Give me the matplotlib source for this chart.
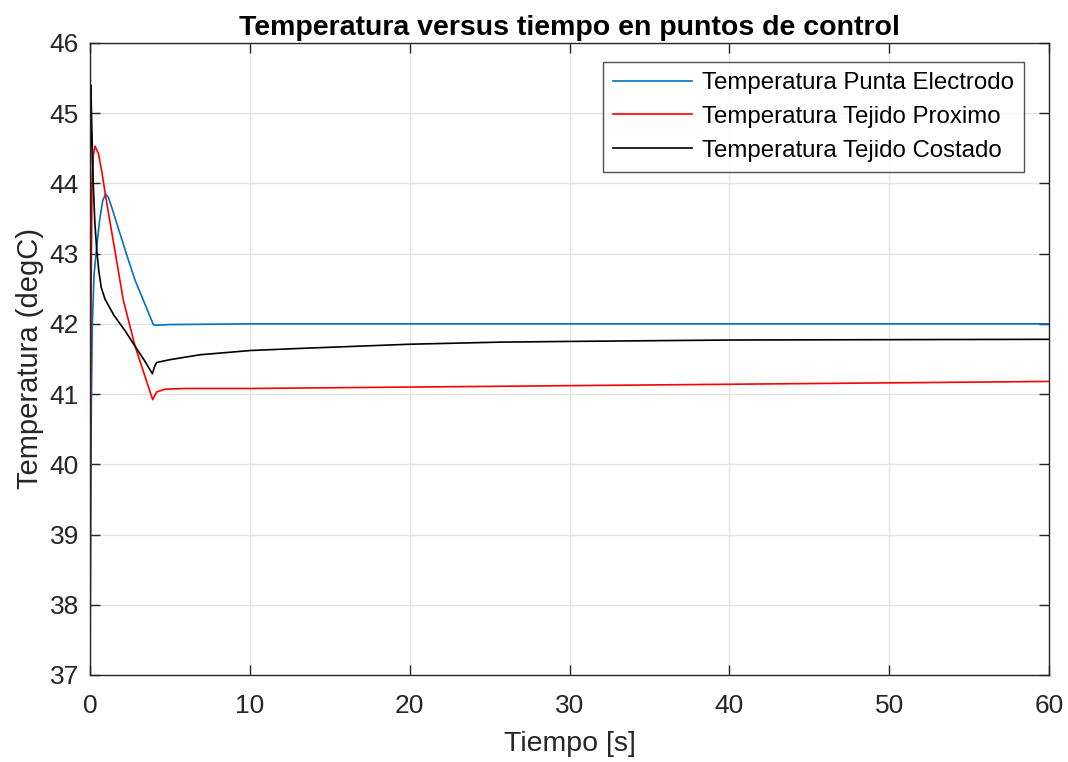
import numpy as np
import matplotlib
matplotlib.use("Agg")
import matplotlib.pyplot as plt

plt.rcParams['font.family'] = ['Liberation Sans', 'DejaVu Sans']

# Temperature histories at the three control points (time in s, temperature in degC)
t_punta = [0.0, 0.04, 0.08, 0.14, 0.25, 0.42, 0.6, 0.8, 0.98, 1.15, 1.4, 1.77, 2.3, 2.82, 3.4, 3.96, 4.1, 5.0, 10.0, 20.0, 40.0, 60.0]
T_punta = [37.0, 39.0, 40.8, 41.96, 42.7, 43.10, 43.48, 43.76, 43.85, 43.80, 43.63, 43.36, 42.98, 42.62, 42.30, 41.99, 41.98, 41.99, 42.0, 42.0, 42.0, 42.0]

t_proximo = [0.0, 0.05, 0.12, 0.2, 0.31, 0.52, 0.75, 0.98, 1.4, 2.08, 2.82, 3.4, 3.92, 4.05, 4.17, 4.69, 6.0, 10.0, 20.0, 30.0, 40.0, 50.0, 60.0]
T_proximo = [37.0, 42.0, 43.9, 44.4, 44.53, 44.43, 44.15, 43.81, 43.25, 42.34, 41.68, 41.28, 40.92, 40.98, 41.03, 41.07, 41.08, 41.08, 41.10, 41.12, 41.14, 41.16, 41.18]

t_costado = [0.0, 0.03, 0.05, 0.1, 0.2, 0.3, 0.42, 0.55, 0.7, 0.94, 1.5, 2.2, 2.82, 3.4, 3.9, 4.05, 4.17, 5.0, 6.88, 10.0, 13.1, 20.0, 25.7, 30.0, 40.0, 60.0]
T_costado = [37.0, 44.5, 45.40, 44.9, 44.0, 43.45, 43.05, 42.75, 42.52, 42.35, 42.12, 41.90, 41.68, 41.48, 41.29, 41.40, 41.45, 41.49, 41.56, 41.62, 41.65, 41.71, 41.74, 41.75, 41.77, 41.78]

labels = ['Temperatura Punta Electrodo', 'Temperatura Tejido Proximo', 'Temperatura Tejido Costado']
colors = ['#0072BD', '#FF0000', '#000000']

fig = plt.figure(figsize=(10.68, 7.62), dpi=100)
ax = fig.add_axes([0.0843, 0.1142, 0.8979, 0.8294])

ax.plot(t_punta, T_punta, color=colors[0], lw=1.2, label=labels[0])
ax.plot(t_proximo, T_proximo, color=colors[1], lw=1.2, label=labels[1])
ax.plot(t_costado, T_costado, color=colors[2], lw=1.2, label=labels[2])

ax.set_xlim(0, 60)
ax.set_ylim(37, 46)
ax.set_xticks(np.arange(0, 61, 10))
ax.set_yticks(np.arange(37, 47, 1))

axis_col = '#262626'
ax.grid(True, color='#e3e3e3', lw=1.0)
ax.set_axisbelow(True)
ax.tick_params(direction='in', top=True, right=True, length=7, width=1,
               colors=axis_col, labelsize=19)
ax.tick_params(axis='x', pad=14)
ax.tick_params(axis='y', pad=8)
for s in ax.spines.values():
    s.set_color(axis_col)
    s.set_linewidth(1.0)

ax.set_title('Temperatura versus tiempo en puntos de control', fontsize=20.5,
             fontweight='bold', pad=6)
ax.set_xlabel('Tiempo [s]', fontsize=20.5, color=axis_col, labelpad=9)
ax.set_ylabel('Temperatura (degC)', fontsize=21, color=axis_col, labelpad=4)

leg = ax.legend(loc='upper right', bbox_to_anchor=(0.974, 0.97), fontsize=17.3,
                frameon=True, fancybox=False, edgecolor=axis_col,
                handlelength=3.3, handletextpad=0.4, borderpad=0.42,
                labelspacing=0.49, borderaxespad=0)
leg.get_frame().set_linewidth(1.0)

fig.savefig('out.png', dpi=100)
